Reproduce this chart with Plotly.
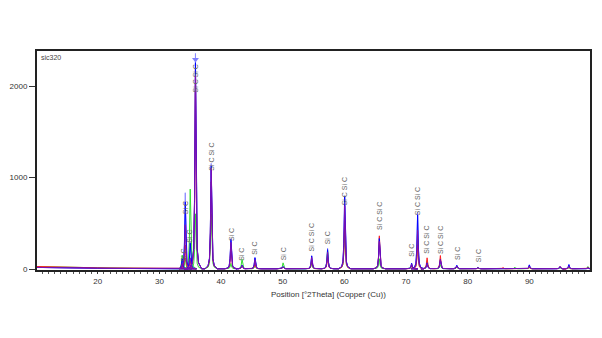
import plotly.graph_objects as go

# ---------------- data ----------------
# low-angle background (10-33 deg)
base_x = [10.15, 12, 14, 16, 18, 20, 22, 24, 26, 28, 30, 32, 33.2]
base_hi = [30, 26, 23, 20, 18, 16, 14, 12, 11, 9, 8, 7, 6]     # red / green scans
base_lo = [20, 17, 15, 13, 12, 11, 10, 9, 8, 7, 6, 6, 5]       # blue / purple / light-blue scans
bg = 5  # background level above 33 deg

# peak positions [deg 2Theta]
peak_pos = [33.7, 34.2, 35.0, 35.85, 38.4, 41.6, 43.4, 45.5, 50.06, 54.7,
            57.28, 60.05, 65.67, 70.91, 71.88, 73.42, 75.57, 78.23, 81.66, 85.72,
            87.65, 90.0, 94.98, 96.42, 99.5]

# peak heights (counts above background) of each scan
lblue_h  = [90, 830, 300, 2350, 1150, 330, 40, 125, 25, 145,
            225, 800, 340, 60, 620, 70, 110, 40, 15, 8,
            5, 45, 25, 48, 10]
green_h  = [150, 120, 870, 600, 600, 60, 105, 30, 65, 60,
            200, 470, 110, 25, 320, 90, 45, 15, 10, 5,
            18, 10, 10, 10, 25]
red_h    = [50, 260, 90, 2180, 950, 220, 30, 60, 20, 90,
            130, 520, 360, 35, 260, 120, 145, 30, 12, 14,
            5, 15, 22, 15, 15]
blue_h   = [110, 730, 280, 2250, 1120, 320, 40, 120, 25, 140,
            210, 790, 330, 60, 590, 65, 100, 38, 15, 8,
            5, 42, 20, 45, 10]
purple_h = [60, 480, 120, 2100, 1100, 290, 35, 100, 20, 125,
            180, 690, 300, 50, 420, 60, 95, 30, 12, 6,
            5, 30, 28, 30, 10]

# reference-pattern labels: position, number of "Si C" entries, label centre (counts)
label_pos   = [33.85, 34.25, 34.97, 35.85, 38.4, 41.6, 43.41, 45.5, 50.06, 54.7,
               57.28, 60.05, 65.67, 70.91, 71.88, 73.42, 75.57, 78.23, 81.66]
label_count = [1, 1, 1, 2, 2, 1, 1, 1, 1, 2,
               1, 2, 2, 1, 2, 2, 2, 1, 1]
label_y     = [150, 672, 355, 2087, 1230, 383, 158, 235, 164, 344,
               344, 847, 585, 208, 738, 322, 322, 175, 153]

# ---------------- drawing style ----------------
shape_dx = [-1.0, -0.5, -0.28, -0.14, 0, 0.14, 0.28, 0.5, 1.0]
shape_f  = [0, 0.03, 0.1, 0.35, 1, 0.35, 0.1, 0.03, 0]
X_END = 99.84


def scan(heights, base):
    xs = list(base_x)
    ys = list(base)
    for p, h in zip(peak_pos, heights):
        for dx, f in zip(shape_dx, shape_f):
            xs.append(p + dx)
            ys.append(bg + h * f)
    xs.append(X_END)
    ys.append(bg)
    return xs, ys


series = [
    ("lightblue", lblue_h, base_lo, "#8c8cff"),
    ("green", green_h, base_hi, "#33dd33"),
    ("red", red_h, base_hi, "#ff2020"),
    ("blue", blue_h, base_lo, "#0000ff"),
    ("purple", purple_h, base_lo, "#8010b0"),
]

fig = go.Figure()
for name, h, base, col in series:
    xs, ys = scan(h, base)
    fig.add_trace(go.Scatter(x=xs, y=ys, mode="lines", name=name,
                             line=dict(color=col, width=1), hoverinfo="skip"))

# marker at top of main peak
fig.add_trace(go.Scatter(x=[peak_pos[3]], y=[2290], mode="markers",
                         marker=dict(symbol="triangle-down", size=6, color="#7f7fff"),
                         hoverinfo="skip"))

for xp, n, yl in zip(label_pos, label_count, label_y):
    fig.add_annotation(x=xp, y=yl, xref="x", yref="y", text=" ".join(["Si C"] * n),
                       textangle=-90, showarrow=False, xanchor="center", yanchor="middle",
                       font=dict(family="Arial, Liberation Sans", size=7, color="#666666"))

fig.add_annotation(x=0.004, y=0.995, xref="paper", yref="paper", text="sic320",
                   showarrow=False, xanchor="left", yanchor="top",
                   font=dict(family="Arial, Liberation Sans", size=7, color="#444444"))
fig.add_annotation(x=(328 - 33) / 559, y=-(294 - 270) / 219, xref="paper", yref="paper",
                   text="Position [°2Theta] (Copper (Cu))", showarrow=False,
                   xanchor="center", yanchor="middle",
                   font=dict(family="Arial, Liberation Sans", size=8, color="#333333"))

fig.update_layout(
    width=602, height=338,
    margin=dict(l=33, r=10, t=51, b=68),
    paper_bgcolor="white", plot_bgcolor="white",
    showlegend=False,
    font=dict(family="Arial, Liberation Sans", size=8, color="#333333"),
)
fig.update_xaxes(range=[10.15, 99.84], tickvals=[20, 30, 40, 50, 60, 70, 80, 90],
                 ticks="outside", ticklen=2, tickcolor="#333",
                 minor=dict(dtick=1, ticks="outside", ticklen=2, tickcolor="#555"),
                 showgrid=False, zeroline=False,
                 showline=True, mirror=True, linecolor="#222", linewidth=2,
                 tickfont=dict(size=8, color="#333"))
fig.update_yaxes(range=[-8, 2382], tickvals=[0, 1000, 2000],
                 ticks="outside", ticklen=6, tickcolor="#333",
                 showgrid=False, zeroline=False,
                 showline=True, mirror=True, linecolor="#222", linewidth=2,
                 tickfont=dict(size=8, color="#333"))

fig.write_html("out.html")
